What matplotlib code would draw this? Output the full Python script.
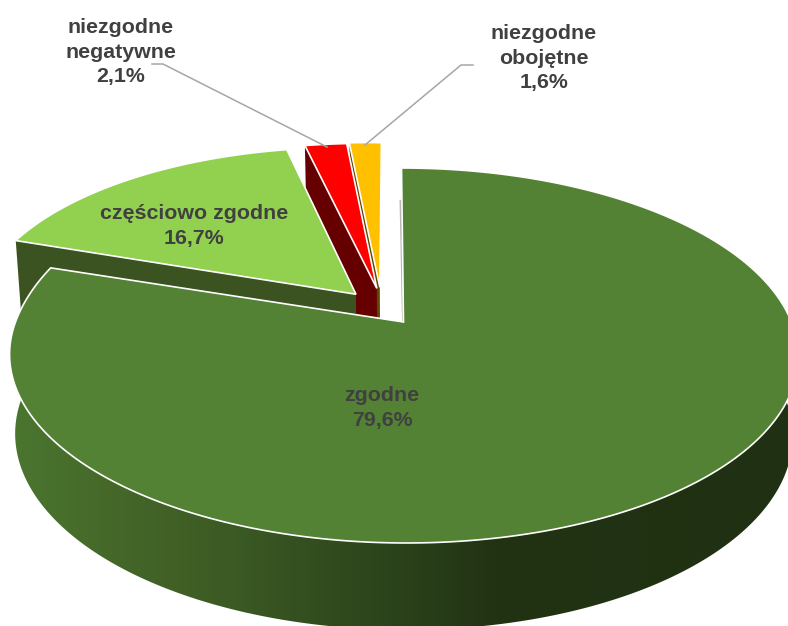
import numpy as np
import matplotlib
matplotlib.use("Agg")
import matplotlib.pyplot as plt
from matplotlib.colors import LinearSegmentedColormap
from matplotlib.patches import Polygon

labels = ["zgodne", "częściowo zgodne", "niezgodne\nnegatywne", "niezgodne\nobojętne"]
values = [79.6, 16.7, 2.1, 1.6]
top_colors = ["#548235", "#92D050", "#FF0000", "#FFC000"]
wall_colors = [None, "#3B5320", "#660000", "#5F4700"]
# wysuniecie wycinkow w plaszczyznie kola (u, v)
explode = [(0.0, 0.0), (-0.125, 0.155), (-0.070, 0.190), (-0.062, 0.197)]
label_xy = [(382, 408), (194, 226), (121, 52), (544, 58)]

# rzut perspektywiczny kola na ekran
CX, CY, C = 403.5, 322, 0.1787
TOP = (388.0, -181.5, 0.0)
BOTTOM = (382.5, -188.8, 78.0)
SHEAR_X, TILT_LEFT = 0.006, 0.11

side_cmap = LinearSegmentedColormap.from_list("side", [
    (0.00, "#4A752F"), (0.15, "#446528"), (0.28, "#3B5A24"), (0.37, "#344F20"),
    (0.47, "#2C451B"), (0.62, "#223314"), (1.00, "#203012"),
])


def project(u, v, surface):
    r, a, dy = surface
    v = v + TILT_LEFT * np.maximum(-u, 0) * np.clip(v, 0, 0.4)
    w = 1 + C * v
    return CX + r * (u - SHEAR_X * v) / w, CY + dy + a * v / w


def arc(start, end, off, surface):
    t = np.radians(np.linspace(start, end, max(int(end - start) * 2, 12)))
    return np.column_stack(project(np.sin(t) + off[0], np.cos(t) + off[1], surface))


fig = plt.figure(figsize=(7.88, 6.26), dpi=100)
ax = fig.add_axes([0, 0, 1, 1])

shares = np.array(values) / sum(values) * 360
ends = np.cumsum(shares)
starts = ends - shares

# wycinki od tylu do przodu
for i in [3, 2, 1]:
    off = explode[i]
    a = np.radians(starts[i])
    apex_top = np.array(project(off[0], off[1], TOP))
    apex_bot = np.array(project(off[0], off[1], BOTTOM))
    edge_top = np.array(project(np.sin(a) + off[0], np.cos(a) + off[1], TOP))
    edge_bot = np.array(project(np.sin(a) + off[0], np.cos(a) + off[1], BOTTOM))
    wall = np.array([edge_top, apex_top, apex_bot, edge_bot])
    ax.fill(wall[:, 0], wall[:, 1], color=wall_colors[i], lw=0, zorder=i * -2 + 10)
    poly = np.vstack([apex_top, arc(starts[i], ends[i], off, TOP)])
    ax.fill(poly[:, 0], poly[:, 1], facecolor=top_colors[i], edgecolor="white",
            lw=1.2, joinstyle="miter", zorder=i * -2 + 11)

# boczna sciana duzego wycinka
outer_top = arc(starts[0], ends[0], (0, 0), TOP)
outer_bot = arc(starts[0], ends[0], (0, 0), BOTTOM)
side = Polygon(np.vstack([outer_top, outer_bot[::-1]]), closed=True, transform=ax.transData,
               facecolor="none", edgecolor="none")
ax.add_patch(side)
im = ax.imshow(np.linspace(0, 1, 400)[None, :], cmap=side_cmap, extent=[15, 790, 640, 150],
               aspect="auto", zorder=12)
im.set_clip_path(side)

# cienka krawedz przy pionowym promieniu
sx, sy = project(np.array([-0.005, -0.002]), np.array([0.76, 0.0]), TOP)
ax.plot(sx, sy, color="#B5B9B0", lw=1.0, zorder=12)

poly = np.vstack([project(0, 0, TOP), outer_top])
ax.fill(poly[:, 0], poly[:, 1], facecolor=top_colors[0], edgecolor="white", lw=1.2,
        joinstyle="miter", zorder=13)

# linie odniesienia
ax.plot([152, 163, 327], [64, 64, 147], color="#A6A6A6", lw=1.1, zorder=14)
ax.plot([473, 461, 365], [65, 65, 145], color="#A6A6A6", lw=1.1, zorder=14)

for name, val, (x, y) in zip(labels, values, label_xy):
    text = name + "\n" + f"{val:.1f}%".replace(".", ",")
    ax.text(x, y, text, ha="center", va="center", family="Liberation Sans", weight="bold",
            fontsize=15.4, color="#404040", linespacing=1.36, zorder=15)

ax.set_xlim(0, 788)
ax.set_ylim(626, 0)
ax.axis("off")
fig.savefig("out.png", dpi=100)
